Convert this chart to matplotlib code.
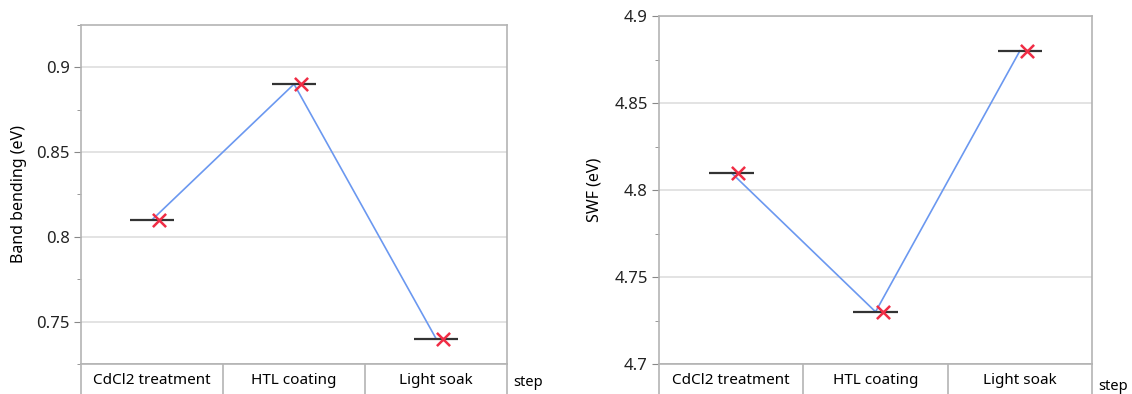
import numpy as np
import matplotlib.pyplot as plt

plt.rcParams['font.family'] = ['Noto Sans', 'DejaVu Sans']

steps = ["CdCl2 treatment", "HTL coating", "Light soak"]
band_bending = [0.81, 0.89, 0.74]
swf = [4.81, 4.73, 4.88]

frame_col = '#b4b4b4'
grid_col = '#dedede'
line_col = '#6b98f0'
mark_col = '#f02d45'


def draw_panel(fig, rect, cat_rect, values, ylim, ylabel, step_xy):
    ax = fig.add_axes(rect)
    x = np.arange(len(values)) + 0.5
    # mean lines
    ax.hlines(values, x - 0.155, x + 0.155, color='#333333', linewidth=1.6, zorder=3)
    ax.plot(x, values, color=line_col, linewidth=1.2, zorder=2)
    ax.scatter(x + 0.05, values, marker='x', s=90, color=mark_col, linewidths=1.8, zorder=4)
    ax.set_xlim(0, len(values))
    ax.set_ylim(*ylim)
    ax.set_yticks(np.arange(ylim[0], ylim[1] + 1e-9, 0.025), minor=True)
    ax.set_xticks([])
    ax.grid(axis='y', which='major', color=grid_col, linewidth=1.2)
    ax.set_axisbelow(True)
    for s in ax.spines.values():
        s.set_color(frame_col)
        s.set_linewidth(1.2)
    ax.tick_params(axis='y', which='major', length=5, color='#888888', labelsize=12, pad=3,
                   labelcolor='#222222')
    ax.tick_params(axis='y', which='minor', length=3, color='#888888')
    ax.set_ylabel(ylabel, fontsize=11.5)

    cax = fig.add_axes(cat_rect)
    cax.set_xlim(0, len(values))
    cax.set_ylim(0, 1)
    cax.set_xticks([])
    cax.set_yticks([])
    cax.spines['bottom'].set_visible(False)
    for s in ['left', 'right', 'top']:
        cax.spines[s].set_color(frame_col)
        cax.spines[s].set_linewidth(1.2)
    for b in range(1, len(values)):
        cax.axvline(b, color=frame_col, linewidth=1.2)
    for i, name in enumerate(steps):
        cax.text(i + 0.5, 0.7, name, ha='center', va='center', fontsize=11)
    fig.text(step_xy[0], step_xy[1], "step", fontsize=10.5, ha='left', va='center')
    return ax


fig = plt.figure(figsize=(11.32, 3.94), dpi=100)

ax1 = draw_panel(fig, [0.0716, 0.0761, 0.3763, 0.8612], [0.0716, -0.06, 0.3763, 0.1361],
                 band_bending, (0.725, 0.925), "Band bending (eV)", (0.4535, 0.028))
ax1.set_yticks([0.75, 0.8, 0.85, 0.9])
ax1.set_yticklabels(["0.75", "0.8", "0.85", "0.9"])
ax1.yaxis.set_label_coords(-0.127, 0.5)

ax2 = draw_panel(fig, [0.5822, 0.0761, 0.3825, 0.8832], [0.5822, -0.06, 0.3825, 0.1361],
                 swf, (4.7, 4.9), "SWF (eV)", (0.9705, 0.018))
ax2.set_yticks([4.7, 4.75, 4.8, 4.85, 4.9])
ax2.set_yticklabels(["4.7", "4.75", "4.8", "4.85", "4.9"])
ax2.yaxis.set_label_coords(-0.13, 0.5)

fig.savefig("out.png", dpi=100)
